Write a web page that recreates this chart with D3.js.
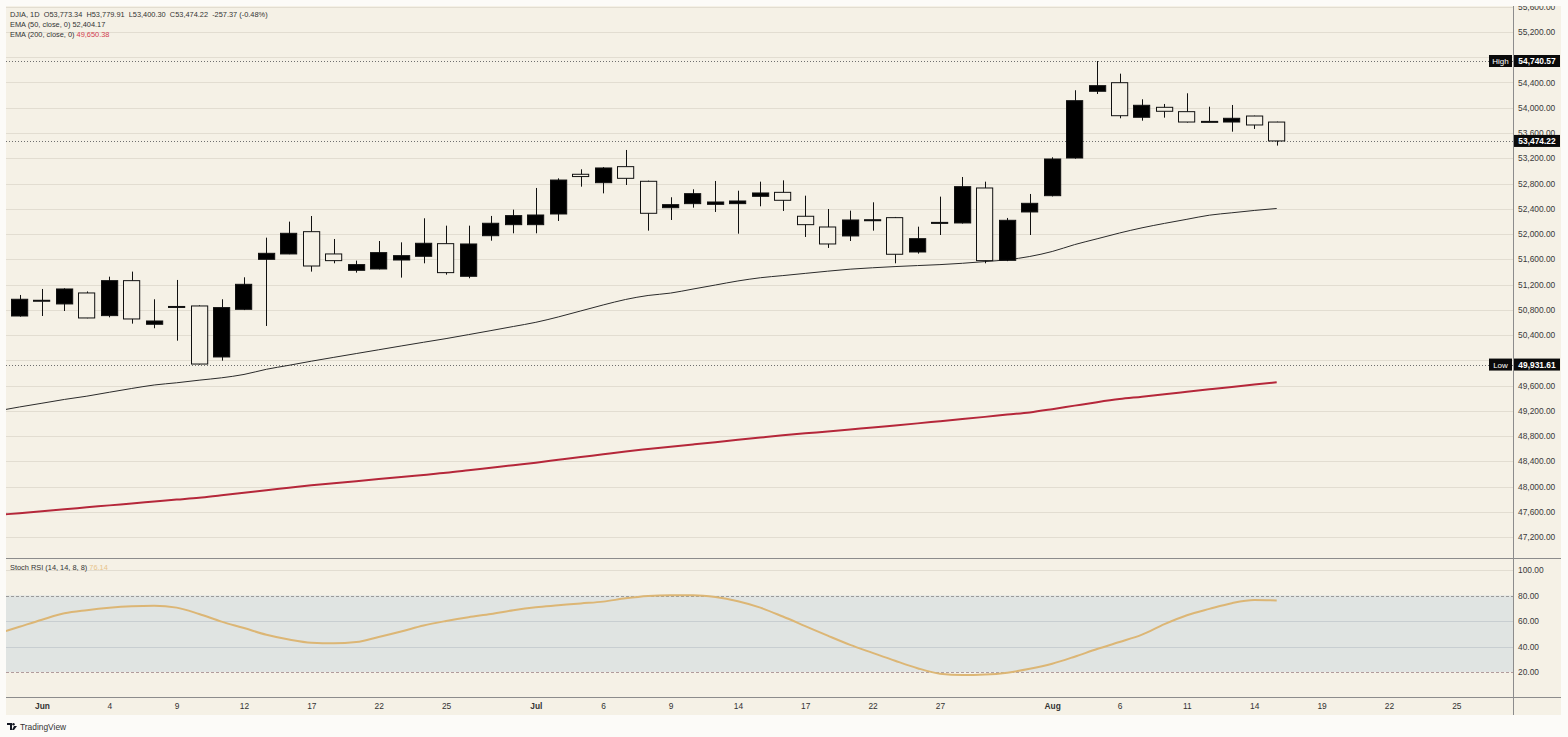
<!DOCTYPE html>
<html><head><meta charset="utf-8">
<script src="https://cdn.jsdelivr.net/npm/d3@7"></script>
<style>
body{margin:0;background:#fcfbf8;}
svg{display:block;}
text{font-family:"Liberation Sans",Arial,sans-serif;}
</style>
</head><body>
<svg id="c" width="1568" height="737"></svg>
<script>
// ---------- DATA ----------
const opens  = [50701,50950,50892,51066,50707,51261,50570,50852,50860,50052,50807,51599,51684,52037,51684,51425,51446,51588,51647,51847,51330,51973,52148,52148,52317,52946,52813,53067,52835,52417,52481,52470,52481,52597,52660,52281,52111,51969,52218,52259,51715,52176,52175,52729,51583,52349,52607,53204,54261,54397,53849,54007,53938,53784,53774,53869,53773.34];
const highs  = [51034,51129,51140,51090,51324,51404,50966,51272,50870,50966,51314,51942,52196,52285,51921,51578,51889,51868,52249,52132,52132,52286,52386,52729,52882,53025,53060,53331,52845,52582,52708,52840,52686,52829,52850,52607,52396,52370,52502,52270,52116,52592,52903,52829,52254,52634,53215,54277,54740.57,54540,54134,54060,54229,54017,54044,53875,53779.91];
const lows   = [50690,50701,50780,50665,50680,50580,50507,50310,49931.61,49993,50795,50543,51680,51404,51536,51388,51440,51309,51536,51356,51299,51894,52011,52011,52206,52750,52644,52776,52053,52222,52417,52349,52005,52439,52365,51953,51779,51889,52053,51536,51689,51984,52165,51536,51570,51984,52595,53193,54218,53833,53795,53843,53765,53772,53621,53664,53400.30];
const closes = [50966,50940,51129,50670,51261,50654,50622,50846,49940,50834,51203,51694,52011,51493,51578,51515,51705,51657,51853,51388,51842,52170,52291,52301,52855,52910,53046,52882,52328,52465,52639,52507,52523,52650,52534,52148,51842,52222,52226,51679,51926,52184,52750,51578,52217,52486,53188,54112,54350,53874,54039,53944,53774,53778,53833,53727,53474.22];
// EMA values start one bar before the first visible candle (index -1)
const ema50  = [49196,49260,49319,49379,49431,49493,49553,49608,49643,49684,49722,49775,49857,49920,49985,50046,50106,50166,50226,50285,50343,50406,50470,50535,50601,50686,50781,50876,50963,51026,51064,51128,51192,51256,51307,51341,51376,51411,51443,51465,51484,51500,51515,51536,51563,51592,51644,51723,51832,51924,52016,52098,52168,52233,52298,52336,52373,52404.17];
const ema200 = [47548,47578,47608,47640,47670,47701,47731,47762,47793,47823,47863,47901,47941,47979,48018,48051,48085,48118,48150,48183,48216,48256,48297,48338,48378,48422,48466,48511,48555,48593,48630,48666,48702,48739,48775,48810,48842,48872,48904,48934,48967,49000,49034,49068,49103,49140,49174,49225,49281,49336,49385,49423,49463,49501,49539,49577,49616,49650.38];
const stochK = [50,55.5,61,66,68.5,70.4,71.6,72,70.5,65.5,59.5,54.5,49.2,45.5,43,42.5,43.5,47.5,51.8,56.5,60,63,65.5,68.5,70.8,72.3,73.8,75.2,77.8,79.6,80.2,80.2,78.8,75.5,70.5,63.5,56,48.5,41.3,35,28.8,23,18.7,17.6,18,19.5,22.5,26.5,32,38,43.5,49.3,57.5,64.5,69.5,74,76.4,76.14];
const priceTicks = [47200,47600,48000,48400,48800,49200,49600,50000,50400,50800,51200,51600,52000,52400,52800,53200,53600,54000,54400,54800,55200,55600];
const rsiTicks = [20,40,60,80,100];
const xTickIdx = [1,4,7,10,13,16,19,23,26,29,32,35,38,41,46,49,52,55,58,61,64];
const xTickLabels = ["Jun","4","9","12","17","22","25","Jul","6","9","14","17","22","27","Aug","6","11","14","19","22","25"];
const monthLabels = ["Jun","Jul","Aug"];
const legendMain = "DJIA, 1D  O53,773.34  H53,779.91  L53,400.30  C53,474.22  -257.37 (-0.48%)";
const highVal = 54740.57, lowVal = 49931.61, lastVal = 53474.22;

// ---------- LAYOUT ----------
const W=1568,H=737;
const paneL=6, paneR=1513, axisR=1561, paneT=6, mainB=558, rsiB=697, bottomB=715;
const BG='#f5f1e6';

const svg=d3.select('#c');
svg.append('rect').attr('width',W).attr('height',H).attr('fill','#fcfbf8');
svg.append('rect').attr('x',paneL).attr('y',paneT).attr('width',axisR-paneL).attr('height',bottomB-paneT).attr('fill',BG);

const defs=svg.append('defs');
defs.append('clipPath').attr('id','mainClip').append('rect').attr('x',paneL).attr('y',paneT).attr('width',paneR-paneL).attr('height',mainB-paneT);
defs.append('clipPath').attr('id','rsiClip').append('rect').attr('x',paneL).attr('y',mainB).attr('width',paneR-paneL).attr('height',rsiB-mainB);
defs.append('clipPath').attr('id','axisClip').append('rect').attr('x',paneR).attr('y',paneT).attr('width',axisR-paneR).attr('height',mainB-paneT);

const x=d3.scaleLinear().domain([0,56]).range([19.5,1276.7]);
const y=d3.scaleLinear().domain([47200,55200]).range([537,32]);
const yr=d3.scaleLinear().domain([0,100]).range([697.5,570]);
const bw=17.2;
const tagVals=[highVal,lowVal,lastVal];

// ---------- MAIN PANE ----------
const main=svg.append('g').attr('clip-path','url(#mainClip)');
main.selectAll('line.grid').data(priceTicks).join('line')
  .attr('x1',paneL).attr('x2',paneR).attr('y1',d=>Math.round(y(d))+0.5).attr('y2',d=>Math.round(y(d))+0.5)
  .attr('stroke','#e2ddd1').attr('stroke-width',1);

// dotted high / low / last lines
tagVals.forEach(v=>{
  main.append('line').attr('x1',paneL).attr('x2',paneR).attr('y1',Math.round(y(v))+0.5).attr('y2',Math.round(y(v))+0.5)
    .attr('stroke','#6f6f6f').attr('stroke-width',1).attr('stroke-dasharray','1,2');
});

const lineGen=d3.line().x((d,i)=>x(i-1)).y(d=>y(d)).curve(d3.curveMonotoneX);
main.append('path').datum(ema200).attr('d',lineGen).attr('fill','none').attr('stroke','#b5273a').attr('stroke-width',2);
main.append('path').datum(ema50).attr('d',lineGen).attr('fill','none').attr('stroke','#2b2b2b').attr('stroke-width',1);

const idx=d3.range(opens.length);
main.selectAll('line.wick').data(idx).join('line')
  .attr('x1',i=>Math.round(x(i))+0.5).attr('x2',i=>Math.round(x(i))+0.5)
  .attr('y1',i=>y(highs[i])).attr('y2',i=>y(lows[i]))
  .attr('stroke','#111').attr('stroke-width',1);
main.selectAll('rect.body').data(idx).join('rect')
  .attr('x',i=>Math.round(x(i)-bw/2)+0.5).attr('width',bw-1)
  .attr('y',i=>y(Math.max(opens[i],closes[i])))
  .attr('height',i=>Math.max(1,Math.abs(y(opens[i])-y(closes[i]))))
  .attr('fill',i=>closes[i]>=opens[i]?'#000':BG)
  .attr('stroke','#111').attr('stroke-width',1);

// ---------- RSI PANE ----------
const rsi=svg.append('g').attr('clip-path','url(#rsiClip)');
rsi.append('rect').attr('x',paneL).attr('width',paneR-paneL).attr('y',yr(80)).attr('height',yr(20)-yr(80)).attr('fill','#e0e4e2');
rsi.selectAll('line.rg').data(rsiTicks).join('line')
  .attr('x1',paneL).attr('x2',paneR).attr('y1',d=>Math.round(yr(d))+0.5).attr('y2',d=>Math.round(yr(d))+0.5)
  .attr('stroke',d=>d===80?'#9a9a9a':d===20?'#b29c9c':d===100?'#e2ddd1':'#c8ced1')
  .attr('stroke-dasharray',d=>(d===80||d===20)?'3,2':null);
const rsiGen=d3.line().x((d,i)=>x(i-1)).y(d=>yr(d)).curve(d3.curveMonotoneX);
rsi.append('path').datum(stochK).attr('d',rsiGen).attr('fill','none').attr('stroke','#dcb675').attr('stroke-width',2);

// ---------- FRAME LINES ----------
svg.append('line').attr('x1',paneR+0.5).attr('x2',paneR+0.5).attr('y1',paneT).attr('y2',bottomB).attr('stroke','#8c8c8c');
svg.append('line').attr('x1',paneL).attr('x2',axisR).attr('y1',mainB+0.5).attr('y2',mainB+0.5).attr('stroke','#8c8c8c');
svg.append('line').attr('x1',paneL).attr('x2',axisR).attr('y1',rsiB+0.5).attr('y2',rsiB+0.5).attr('stroke','#8c8c8c');

// ---------- AXES ----------
const fmt=d3.format(',.2f');
// price labels hidden behind the High / Low tags are left out
const shownTicks=priceTicks.filter(t=>!tagVals.some(v=>Math.abs(y(t)-y(v))<7));
const yAxisWrap=svg.append('g').attr('clip-path','url(#axisClip)');
const yAxis=yAxisWrap.append('g').attr('transform',`translate(${paneR},0)`)
  .call(d3.axisRight(y).tickValues(shownTicks).tickFormat(fmt).tickSize(0).tickPadding(5));
yAxis.select('.domain').remove();
yAxis.selectAll('text').attr('font-size','8.4px').attr('fill','#3a3a3a').attr('font-family','"Liberation Sans",Arial,sans-serif');

const rAxis=svg.append('g').attr('transform',`translate(${paneR},0)`)
  .call(d3.axisRight(yr).tickValues(rsiTicks).tickFormat(fmt).tickSize(0).tickPadding(5));
rAxis.select('.domain').remove();
rAxis.selectAll('text').attr('font-size','8.4px').attr('fill','#3a3a3a').attr('font-family','"Liberation Sans",Arial,sans-serif');

const xAxis=svg.append('g').attr('transform',`translate(0,${rsiB})`)
  .call(d3.axisBottom(x).tickValues(xTickIdx).tickFormat((d,i)=>xTickLabels[i]).tickSize(0).tickPadding(6));
xAxis.select('.domain').remove();
xAxis.selectAll('text').attr('font-size','8.4px').attr('fill','#333')
  .attr('font-family','"Liberation Sans",Arial,sans-serif')
  .attr('font-weight',(d,i)=>monthLabels.includes(xTickLabels[i])?'bold':'normal');

// ---------- PRICE TAGS ----------
function tag(v,label){
  const yy=y(v);
  svg.append('rect').attr('x',paneR+1).attr('y',yy-6).attr('width',46).attr('height',12).attr('fill','#0a0a0a');
  svg.append('text').attr('x',paneR+24).attr('y',yy+3).attr('text-anchor','middle').attr('font-size','8.4px').attr('font-weight','bold').attr('fill','#fff').text(fmt(v));
  if(label){
    svg.append('rect').attr('x',paneR-24).attr('y',yy-6).attr('width',23).attr('height',12).attr('fill','#0a0a0a');
    svg.append('text').attr('x',paneR-12.5).attr('y',yy+3).attr('text-anchor','middle').attr('font-size','8px').attr('fill','#fff').text(label);
  }
}
tag(highVal,'High');
tag(lowVal,'Low');
tag(lastVal,null);

// ---------- LEGENDS ----------
const lg=svg.append('g').attr('font-size','7.4px').attr('fill','#333');
lg.append('text').attr('x',10).attr('y',16.5).attr('xml:space','preserve').text(legendMain);
const l2=lg.append('text').attr('x',10).attr('y',26.5);
l2.append('tspan').text('EMA (50, close, 0) ');
l2.append('tspan').text(fmt(ema50[ema50.length-1]));
const l3=lg.append('text').attr('x',10).attr('y',36.5);
l3.append('tspan').text('EMA (200, close, 0) ');
l3.append('tspan').attr('fill','#d2404f').text(fmt(ema200[ema200.length-1]));
const l4=lg.append('text').attr('x',10).attr('y',570);
l4.append('tspan').text('Stoch RSI (14, 14, 8, 8) ');
l4.append('tspan').attr('fill','#e8c48a').text(d3.format('.2f')(stochK[stochK.length-1]));

// ---------- BRANDING ----------
const bg=svg.append('g').attr('transform','translate(7,723)');
bg.append('path').attr('d','M0 0 H5 V7 H3 V2 H0 Z').attr('fill','#131722');
bg.append('circle').attr('cx',6.5).attr('cy',1.2).attr('r',1.2).attr('fill','#131722');
bg.append('path').attr('d','M7 3 H10 L7 7 H5 Z').attr('fill','#131722');
svg.append('text').attr('x',20).attr('y',730).attr('font-size','8.4px').attr('fill','#333').text('TradingView');
</script>
</body></html>
